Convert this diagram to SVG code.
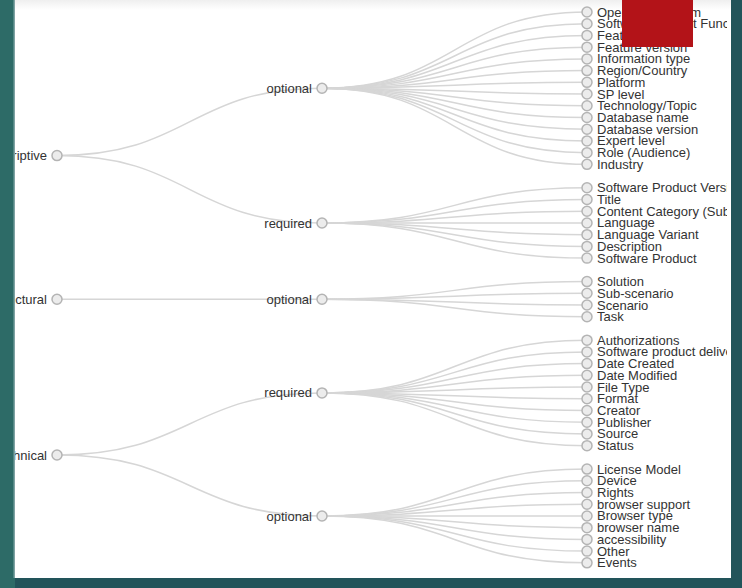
<svg xmlns="http://www.w3.org/2000/svg" width="742" height="588" viewBox="0 0 742 588">
<style>
.node circle{fill:#ececec;stroke:#b4b4b4;stroke-width:1.5}
.node text{font-family:"Liberation Sans",Arial,sans-serif;font-size:13px;fill:#333}
.leaf text{text-anchor:start}
.inner text{text-anchor:end}
.link{fill:none;stroke:#d6d6d6;stroke-width:1.5}
</style>
<defs>
<clipPath id="panel"><rect x="15" y="0" width="712" height="578"/></clipPath>
<linearGradient id="topfade" x1="0" y1="0" x2="0" y2="1"><stop offset="0" stop-color="#efefef"/><stop offset="1" stop-color="#ffffff"/></linearGradient>
</defs>
<rect x="0" y="0" width="742" height="588" fill="#22545a"/>
<rect x="0" y="0" width="15" height="588" fill="#2d6b67"/>
<rect x="13.5" y="0" width="1.5" height="578" fill="#7fa3a3"/>
<rect x="15" y="0" width="716" height="578" fill="#ffffff"/>
<rect x="15" y="0" width="716" height="10" fill="url(#topfade)"/>
<g clip-path="url(#panel)">
<g id="links">
<path class="link" d="M57,155.6C189.5,155.6 189.5,88.2 322,88.2"/>
<path class="link" d="M57,155.6C189.5,155.6 189.5,223 322,223"/>
<path class="link" d="M57,299.2C189.5,299.2 189.5,299.2 322,299.2"/>
<path class="link" d="M57,455C189.5,455 189.5,392.9 322,392.9"/>
<path class="link" d="M57,455C189.5,455 189.5,516 322,516"/>
<path class="link" d="M322,88.2C454.5,88.2 454.5,12 587,12"/>
<path class="link" d="M322,88.2C454.5,88.2 454.5,23.72 587,23.72"/>
<path class="link" d="M322,88.2C454.5,88.2 454.5,35.44 587,35.44"/>
<path class="link" d="M322,88.2C454.5,88.2 454.5,47.16 587,47.16"/>
<path class="link" d="M322,88.2C454.5,88.2 454.5,58.88 587,58.88"/>
<path class="link" d="M322,88.2C454.5,88.2 454.5,70.6 587,70.6"/>
<path class="link" d="M322,88.2C454.5,88.2 454.5,82.32 587,82.32"/>
<path class="link" d="M322,88.2C454.5,88.2 454.5,94.04 587,94.04"/>
<path class="link" d="M322,88.2C454.5,88.2 454.5,105.76 587,105.76"/>
<path class="link" d="M322,88.2C454.5,88.2 454.5,117.48 587,117.48"/>
<path class="link" d="M322,88.2C454.5,88.2 454.5,129.2 587,129.2"/>
<path class="link" d="M322,88.2C454.5,88.2 454.5,140.92 587,140.92"/>
<path class="link" d="M322,88.2C454.5,88.2 454.5,152.64 587,152.64"/>
<path class="link" d="M322,88.2C454.5,88.2 454.5,164.36 587,164.36"/>
<path class="link" d="M322,223C454.5,223 454.5,187.8 587,187.8"/>
<path class="link" d="M322,223C454.5,223 454.5,199.52 587,199.52"/>
<path class="link" d="M322,223C454.5,223 454.5,211.24 587,211.24"/>
<path class="link" d="M322,223C454.5,223 454.5,222.96 587,222.96"/>
<path class="link" d="M322,223C454.5,223 454.5,234.68 587,234.68"/>
<path class="link" d="M322,223C454.5,223 454.5,246.4 587,246.4"/>
<path class="link" d="M322,223C454.5,223 454.5,258.12 587,258.12"/>
<path class="link" d="M322,299.2C454.5,299.2 454.5,281.56 587,281.56"/>
<path class="link" d="M322,299.2C454.5,299.2 454.5,293.28 587,293.28"/>
<path class="link" d="M322,299.2C454.5,299.2 454.5,305 587,305"/>
<path class="link" d="M322,299.2C454.5,299.2 454.5,316.72 587,316.72"/>
<path class="link" d="M322,392.9C454.5,392.9 454.5,340.16 587,340.16"/>
<path class="link" d="M322,392.9C454.5,392.9 454.5,351.88 587,351.88"/>
<path class="link" d="M322,392.9C454.5,392.9 454.5,363.6 587,363.6"/>
<path class="link" d="M322,392.9C454.5,392.9 454.5,375.32 587,375.32"/>
<path class="link" d="M322,392.9C454.5,392.9 454.5,387.04 587,387.04"/>
<path class="link" d="M322,392.9C454.5,392.9 454.5,398.76 587,398.76"/>
<path class="link" d="M322,392.9C454.5,392.9 454.5,410.48 587,410.48"/>
<path class="link" d="M322,392.9C454.5,392.9 454.5,422.2 587,422.2"/>
<path class="link" d="M322,392.9C454.5,392.9 454.5,433.92 587,433.92"/>
<path class="link" d="M322,392.9C454.5,392.9 454.5,445.64 587,445.64"/>
<path class="link" d="M322,516C454.5,516 454.5,469.08 587,469.08"/>
<path class="link" d="M322,516C454.5,516 454.5,480.8 587,480.8"/>
<path class="link" d="M322,516C454.5,516 454.5,492.52 587,492.52"/>
<path class="link" d="M322,516C454.5,516 454.5,504.24 587,504.24"/>
<path class="link" d="M322,516C454.5,516 454.5,515.96 587,515.96"/>
<path class="link" d="M322,516C454.5,516 454.5,527.68 587,527.68"/>
<path class="link" d="M322,516C454.5,516 454.5,539.4 587,539.4"/>
<path class="link" d="M322,516C454.5,516 454.5,551.12 587,551.12"/>
<path class="link" d="M322,516C454.5,516 454.5,562.84 587,562.84"/>
</g>
<g id="n-descriptive" class="node inner" transform="translate(57,155.6)"><circle r="5"/><text x="-10" dy="4.5">descriptive</text></g>
<g id="n-structural" class="node inner" transform="translate(57,299.2)"><circle r="5"/><text x="-10" dy="4.5">structural</text></g>
<g id="n-technical" class="node inner" transform="translate(57,455)"><circle r="5"/><text x="-10" dy="4.5">technical</text></g>
<g id="n-desc-optional" class="node inner" transform="translate(322,88.2)"><circle r="5"/><text x="-10" dy="4.5">optional</text></g>
<g id="n-desc-required" class="node inner" transform="translate(322,223)"><circle r="5"/><text x="-10" dy="4.5">required</text></g>
<g id="n-struct-optional" class="node inner" transform="translate(322,299.2)"><circle r="5"/><text x="-10" dy="4.5">optional</text></g>
<g id="n-tech-required" class="node inner" transform="translate(322,392.9)"><circle r="5"/><text x="-10" dy="4.5">required</text></g>
<g id="n-tech-optional" class="node inner" transform="translate(322,516)"><circle r="5"/><text x="-10" dy="4.5">optional</text></g>
<g id="l0" class="node leaf" transform="translate(587,12)"><circle r="5"/><text x="10" dy="4.5">Operating System</text></g>
<g id="l1" class="node leaf" transform="translate(587,23.72)"><circle r="5"/><text x="10" dy="4.5">Software Product Function</text></g>
<g id="l2" class="node leaf" transform="translate(587,35.44)"><circle r="5"/><text x="10" dy="4.5">Feature</text></g>
<g id="l3" class="node leaf" transform="translate(587,47.16)"><circle r="5"/><text x="10" dy="4.5">Feature version</text></g>
<g id="l4" class="node leaf" transform="translate(587,58.88)"><circle r="5"/><text x="10" dy="4.5">Information type</text></g>
<g id="l5" class="node leaf" transform="translate(587,70.6)"><circle r="5"/><text x="10" dy="4.5">Region/Country</text></g>
<g id="l6" class="node leaf" transform="translate(587,82.32)"><circle r="5"/><text x="10" dy="4.5">Platform</text></g>
<g id="l7" class="node leaf" transform="translate(587,94.04)"><circle r="5"/><text x="10" dy="4.5">SP level</text></g>
<g id="l8" class="node leaf" transform="translate(587,105.76)"><circle r="5"/><text x="10" dy="4.5">Technology/Topic</text></g>
<g id="l9" class="node leaf" transform="translate(587,117.48)"><circle r="5"/><text x="10" dy="4.5">Database name</text></g>
<g id="l10" class="node leaf" transform="translate(587,129.2)"><circle r="5"/><text x="10" dy="4.5">Database version</text></g>
<g id="l11" class="node leaf" transform="translate(587,140.92)"><circle r="5"/><text x="10" dy="4.5">Expert level</text></g>
<g id="l12" class="node leaf" transform="translate(587,152.64)"><circle r="5"/><text x="10" dy="4.5">Role (Audience)</text></g>
<g id="l13" class="node leaf" transform="translate(587,164.36)"><circle r="5"/><text x="10" dy="4.5">Industry</text></g>
<g id="l15" class="node leaf" transform="translate(587,187.8)"><circle r="5"/><text x="10" dy="4.5">Software Product Version</text></g>
<g id="l16" class="node leaf" transform="translate(587,199.52)"><circle r="5"/><text x="10" dy="4.5">Title</text></g>
<g id="l17" class="node leaf" transform="translate(587,211.24)"><circle r="5"/><text x="10" dy="4.5">Content Category (Subcategory)</text></g>
<g id="l18" class="node leaf" transform="translate(587,222.96)"><circle r="5"/><text x="10" dy="4.5">Language</text></g>
<g id="l19" class="node leaf" transform="translate(587,234.68)"><circle r="5"/><text x="10" dy="4.5">Language Variant</text></g>
<g id="l20" class="node leaf" transform="translate(587,246.4)"><circle r="5"/><text x="10" dy="4.5">Description</text></g>
<g id="l21" class="node leaf" transform="translate(587,258.12)"><circle r="5"/><text x="10" dy="4.5">Software Product</text></g>
<g id="l23" class="node leaf" transform="translate(587,281.56)"><circle r="5"/><text x="10" dy="4.5">Solution</text></g>
<g id="l24" class="node leaf" transform="translate(587,293.28)"><circle r="5"/><text x="10" dy="4.5">Sub-scenario</text></g>
<g id="l25" class="node leaf" transform="translate(587,305)"><circle r="5"/><text x="10" dy="4.5">Scenario</text></g>
<g id="l26" class="node leaf" transform="translate(587,316.72)"><circle r="5"/><text x="10" dy="4.5">Task</text></g>
<g id="l28" class="node leaf" transform="translate(587,340.16)"><circle r="5"/><text x="10" dy="4.5">Authorizations</text></g>
<g id="l29" class="node leaf" transform="translate(587,351.88)"><circle r="5"/><text x="10" dy="4.5">Software product delivery</text></g>
<g id="l30" class="node leaf" transform="translate(587,363.6)"><circle r="5"/><text x="10" dy="4.5">Date Created</text></g>
<g id="l31" class="node leaf" transform="translate(587,375.32)"><circle r="5"/><text x="10" dy="4.5">Date Modified</text></g>
<g id="l32" class="node leaf" transform="translate(587,387.04)"><circle r="5"/><text x="10" dy="4.5">File Type</text></g>
<g id="l33" class="node leaf" transform="translate(587,398.76)"><circle r="5"/><text x="10" dy="4.5">Format</text></g>
<g id="l34" class="node leaf" transform="translate(587,410.48)"><circle r="5"/><text x="10" dy="4.5">Creator</text></g>
<g id="l35" class="node leaf" transform="translate(587,422.2)"><circle r="5"/><text x="10" dy="4.5">Publisher</text></g>
<g id="l36" class="node leaf" transform="translate(587,433.92)"><circle r="5"/><text x="10" dy="4.5">Source</text></g>
<g id="l37" class="node leaf" transform="translate(587,445.64)"><circle r="5"/><text x="10" dy="4.5">Status</text></g>
<g id="l39" class="node leaf" transform="translate(587,469.08)"><circle r="5"/><text x="10" dy="4.5">License Model</text></g>
<g id="l40" class="node leaf" transform="translate(587,480.8)"><circle r="5"/><text x="10" dy="4.5">Device</text></g>
<g id="l41" class="node leaf" transform="translate(587,492.52)"><circle r="5"/><text x="10" dy="4.5">Rights</text></g>
<g id="l42" class="node leaf" transform="translate(587,504.24)"><circle r="5"/><text x="10" dy="4.5">browser support</text></g>
<g id="l43" class="node leaf" transform="translate(587,515.96)"><circle r="5"/><text x="10" dy="4.5">Browser type</text></g>
<g id="l44" class="node leaf" transform="translate(587,527.68)"><circle r="5"/><text x="10" dy="4.5">browser name</text></g>
<g id="l45" class="node leaf" transform="translate(587,539.4)"><circle r="5"/><text x="10" dy="4.5">accessibility</text></g>
<g id="l46" class="node leaf" transform="translate(587,551.12)"><circle r="5"/><text x="10" dy="4.5">Other</text></g>
<g id="l47" class="node leaf" transform="translate(587,562.84)"><circle r="5"/><text x="10" dy="4.5">Events</text></g>
</g>
<rect x="622" y="0" width="71" height="47" fill="#b31318"/>
</svg>
